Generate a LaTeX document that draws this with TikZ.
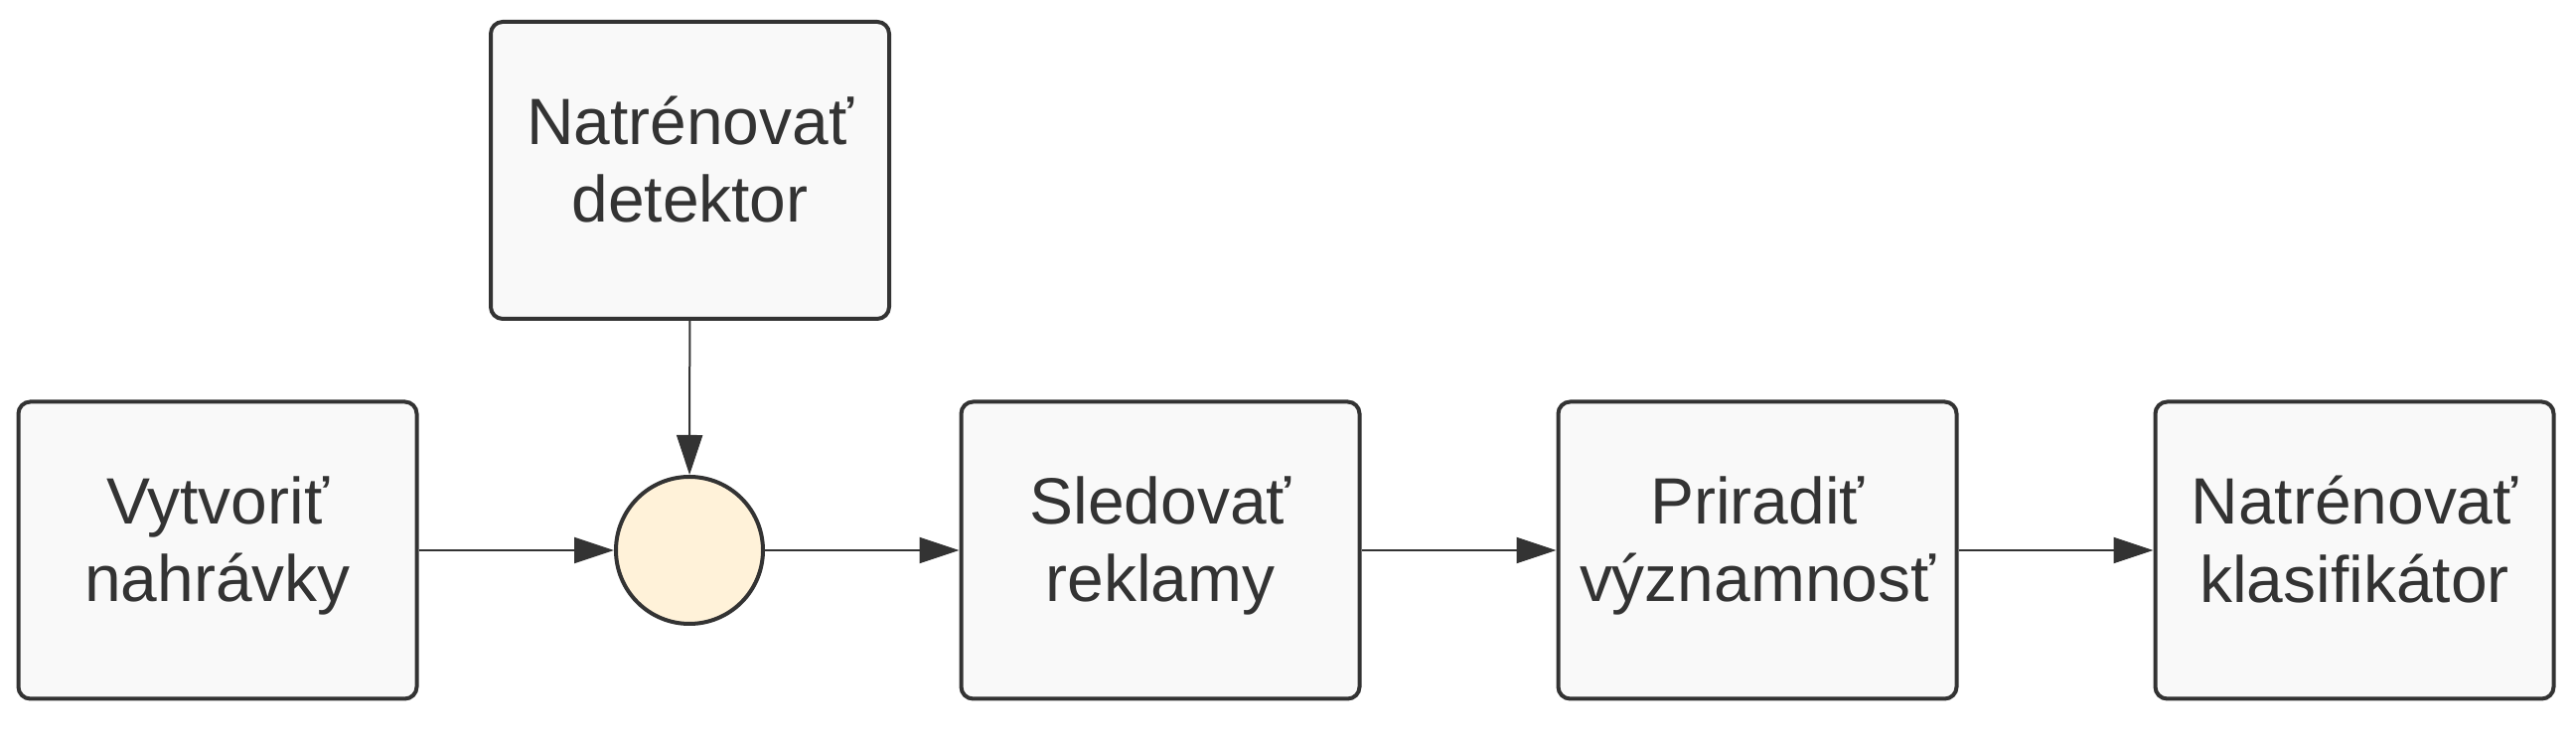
\documentclass[tikz,border=0pt]{standalone}
\usepackage{fontspec}
\setmainfont{Liberation Sans}
\usetikzlibrary{arrows.meta}
\definecolor{linegray}{HTML}{333333}
\definecolor{boxfill}{HTML}{F9F9F9}
\definecolor{spojfill}{HTML}{FFF2D9}

\begin{document}
\begin{tikzpicture}[
  task/.style={draw=linegray, fill=boxfill, line width=0.08cm, rounded corners=0.24cm,
    minimum width=8.02cm, minimum height=5.98cm, align=center, text=linegray,
    text depth=0.45cm, font=\fontsize{37.5}{44.5}\selectfont},
  spojka/.style={circle, draw=linegray, fill=spojfill, line width=0.08cm,
    minimum size=2.96cm, inner sep=0pt},
  tok/.style={draw=linegray, line width=0.04cm, -{Triangle[length=0.8cm,width=0.52cm]}}
]

\useasboundingbox (0,0) rectangle (51.86,15.02);

\coordinate (A) at (4.38,3.94);
\coordinate (B) at (13.89,11.59);
\coordinate (C) at (13.88,3.94);
\coordinate (D) at (23.36,3.94);
\coordinate (E) at (35.38,3.94);
\coordinate (F) at (47.40,3.94);


\node [task] (nahravky) at (A) {Vytvoriť\\nahrávky};
\node [task] (detektor) at (B) {Natrénovať\\detektor};
\node [spojka] (spoj) at (C) {};
\node [task] (reklamy) at (D) {Sledovať\\reklamy};
\node [task] (vyznam) at (E) {Priradiť\\významnosť};
\node [task] (klasif) at (F) {Natrénovať\\klasifikátor};


\draw [tok] (nahravky) -- (spoj);
\draw [tok] (detektor) -- (spoj);
\draw [tok] (spoj) -- (reklamy);
\draw [tok] (reklamy) -- (vyznam);
\draw [tok] (vyznam) -- (klasif);


\end{tikzpicture}
\end{document}
